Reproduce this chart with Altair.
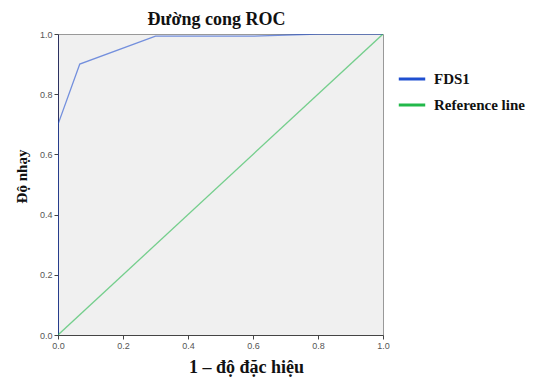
import altair as alt
import pandas as pd

# ROC curve points (1 - specificity, sensitivity)
roc_x = [0.0, 0.0, 0.067, 0.30, 0.60, 0.80, 1.0]
roc_y = [0.0, 0.70, 0.90, 0.993, 0.993, 1.0, 1.0]
ref_x = [0.0, 1.0]
ref_y = [0.0, 1.0]
series = ["FDS1", "Reference line"]
colors = ["#1f4fd0", "#22b84a"]
ticks = [0.0, 0.2, 0.4, 0.6, 0.8, 1.0]

rows = []
for i, (x, y) in enumerate(zip(roc_x, roc_y)):
    rows.append({"x": x, "y": y, "series": series[0], "order": i})
for i, (x, y) in enumerate(zip(ref_x, ref_y)):
    rows.append({"x": x, "y": y, "series": series[1], "order": i})
df = pd.DataFrame(rows)

serif = "Liberation Serif"
sans = "Liberation Sans"

chart = alt.Chart(df).mark_line(strokeWidth=1.3, strokeOpacity=0.6, clip=True).encode(
    x=alt.X("x:Q", scale=alt.Scale(domain=[0, 1], nice=False),
            axis=alt.Axis(title="1 – độ đặc hiệu", values=ticks, format=".1f",
                          grid=False, domainColor="#444", tickColor="#444",
                          tickSize=4, labelColor="#555", labelFontSize=9,
                          labelFont=sans, labelPadding=2, labelFlush=False,
                          titleFont=serif, titleFontSize=18, titleFontWeight="bold",
                          titleColor="#111", titleX=188, titleY=23,
                          titleBaseline="top", titleAlign="center")),
    y=alt.Y("y:Q", scale=alt.Scale(domain=[0, 1], nice=False),
            axis=alt.Axis(title="Độ nhạy", values=ticks, format=".1f",
                          grid=False, domainColor="#2c3160", tickColor="#444",
                          tickSize=4, labelColor="#555", labelFontSize=9,
                          labelFont=sans, labelPadding=2, labelFlush=False,
                          titleFont=serif, titleFontSize=15, titleFontWeight="bold",
                          titleColor="#111", titleX=-29, titleY=142)),
    color=alt.Color("series:N", scale=alt.Scale(domain=series, range=colors),
                    legend=alt.Legend(title=None, orient="none", legendX=339, legendY=30,
                                      symbolType="stroke", symbolStrokeWidth=3,
                                      symbolOpacity=1,
                                      symbolSize=700, labelFontSize=15,
                                      labelFontWeight="bold", labelColor="#111",
                                      rowPadding=3, labelOffset=7)),
    order="order:Q",
).properties(
    width=325, height=301,
    title=alt.TitleParams("Đường cong ROC", font=serif, fontSize=18, fontWeight="bold",
                          color="#111", anchor="middle", offset=1, dx=-4),
    padding={"left": 50, "top": 26, "right": 144, "bottom": 44},
    autosize=alt.AutoSizeParams(type="none"),
).configure(
    font=serif
).configure_view(
    fill="#f0f0f0", stroke="#999", strokeWidth=1
).configure_legend(labelFont=serif)

chart.save("out.html", embed_options={"renderer": "svg", "actions": False})
